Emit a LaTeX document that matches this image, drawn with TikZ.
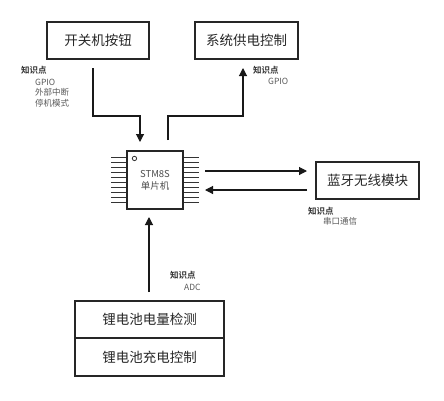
\documentclass[tikz,border=0pt]{standalone}
\usepackage{fontspec}
\setmainfont{Noto Sans CJK SC}[BoldFont={Noto Sans CJK SC Bold}]
\usetikzlibrary{arrows.meta}
\tikzset{
  box/.style={draw=black!85, line width=1.2pt, minimum width=103pt, minimum height=37pt, inner sep=0pt, font=\fontsize{13.5}{14}\selectfont, text=black!85},
  conn/.style={draw=black!90, line width=1.1pt},
  arr/.style={conn, -{Triangle[length=8pt,width=8pt]}},
  kp/.style={anchor=west, inner sep=0pt, font=\bfseries\fontsize{8.5}{9}\selectfont, text=black!80},
  kv/.style={anchor=west, inner sep=0pt, font=\fontsize{8.5}{9}\selectfont, text=black!65},
  chip/.style={draw=black!85, line width=1.1pt, minimum width=56pt, minimum height=58pt, inner sep=0pt, align=center, font=\fontsize{9.5}{12}\selectfont, text=black!70},
  pin/.style={draw=black!80, line width=0.9pt}
}
\begin{document}
\begin{tikzpicture}[x=1pt,y=-1pt]
\useasboundingbox (0,0) rectangle (444,400);
% boxes
\node[box, minimum width=102pt] (kb) at (98,40.5) {开关机按钮};
\node[box] (pwr) at (246.5,40.5) {系统供电控制};
\node[box] (bt) at (367.5,180.5) {蓝牙无线模块};
\node[box, minimum width=149pt] (bat1) at (149.5,319.5) {锂电池电量检测};
\node[box, minimum width=149pt, minimum height=38pt] (bat2) at (149.5,357) {锂电池充电控制};
% chip
\node[chip] (mcu) at (155,180) {STM8S\\单片机};
\foreach \i in {0,...,9}{
  \draw[pin] ([yshift=-\i*5pt-7pt]mcu.north west) -- ++(-15,0);
  \draw[pin] ([yshift=-\i*5pt-7pt]mcu.north east) -- ++(15,0);
}
\draw[line width=0.8pt, black!80] ([xshift=8pt,yshift=-8pt]mcu.north west) circle (2.2pt);
% connector end points
\coordinate (kbout) at (93,68);
\coordinate (kbin) at (140,142);
\coordinate (pwout) at (168,140);
\coordinate (pwin) at (243,68);
\coordinate (mcuo) at (205,171);
\coordinate (btin) at (307,171);
\coordinate (btout) at (307,190);
\coordinate (mcui) at (205,190);
\coordinate (batout) at (149,292);
\coordinate (mcub) at (149,217);
% connectors
\draw[arr] (kbout) -- (93,116) -- (140,116) -- (kbin);
\draw[arr] (pwout) -- (168,116) -- (243,116) -- (pwin);
\draw[arr] (mcuo) -- (btin);
\draw[arr] (btout) -- (mcui);
\draw[arr] (batout) -- (mcub);
% labels
\node[kp] (l1) at (21,70) {知识点};
\node[kv] (l1a) at (35,82) {GPIO};
\node[kv] (l1b) at (35,92.5) {外部中断};
\node[kv] (l1c) at (35,103) {停机模式};
\node[kp] (l2) at (253,70) {知识点};
\node[kv] (l2a) at (268,81) {GPIO};
\node[kp] (l3) at (308,211) {知识点};
\node[kv] (l3a) at (323,221.5) {串口通信};
\node[kp] (l4) at (170,275) {知识点};
\node[kv] (l4a) at (184,287) {ADC};
\end{tikzpicture}
\end{document}
